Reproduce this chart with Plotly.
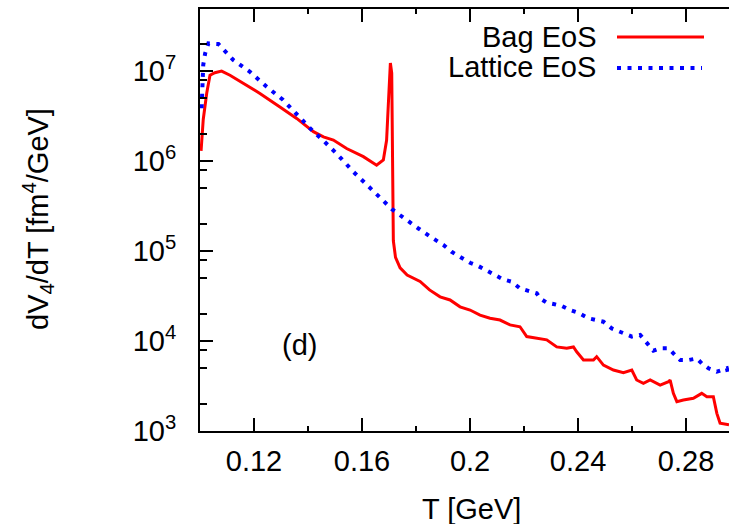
import plotly.graph_objects as go

# ---- data ----
bag_T = [0.1004, 0.1012, 0.1025, 0.1037, 0.1055, 0.1080, 0.1111, 0.1173, 0.1222, 0.1296,
         0.1358, 0.1420, 0.1457, 0.1494, 0.1543, 0.1605, 0.1654, 0.1679, 0.1691, 0.1697,
         0.1705, 0.1710, 0.1712, 0.1716, 0.1724, 0.1741, 0.1767, 0.1815, 0.1850, 0.1889,
         0.1926, 0.1963, 0.2000, 0.2037, 0.2074, 0.2111, 0.2148, 0.2185, 0.2210, 0.2247,
         0.2284, 0.2321, 0.2358, 0.2383, 0.2395, 0.2420, 0.2457, 0.2469, 0.2494, 0.2531,
         0.2568, 0.2599, 0.2617, 0.2642, 0.2667, 0.2704, 0.2735, 0.2741, 0.2753, 0.2766,
         0.2790, 0.2827, 0.2858, 0.2877, 0.2901, 0.2914, 0.2926, 0.2959]
bag_V = [1.3e6, 2.9e6, 5.7e6, 9.0e6, 9.6e6, 1.0e7, 9.0e6, 7.0e6, 5.65e6, 4.0e6,
         2.98e6, 2.12e6, 1.86e6, 1.71e6, 1.38e6, 1.12e6, 9.0e5, 1.03e6, 1.7e6, 4.0e6,
         1.23e7, 9.5e6, 1.0e6, 1.3e5, 8.5e4, 6.5e4, 5.4e4, 4.6e4, 3.7e4, 3.1e4,
         2.86e4, 2.4e4, 2.21e4, 1.94e4, 1.79e4, 1.71e4, 1.51e4, 1.44e4, 1.12e4, 1.07e4,
         1.03e4, 8.6e3, 8.3e3, 8.6e3, 7.6e3, 6.15e3, 6.15e3, 6.7e3, 5.4e3, 4.76e3,
         4.45e3, 4.76e3, 3.69e3, 3.39e3, 3.69e3, 3.24e3, 3.53e3, 3.69e3, 2.62e3, 2.12e3,
         2.21e3, 2.31e3, 2.62e3, 2.4e3, 2.4e3, 1.57e3, 1.22e3, 1.17e3]

lat_T = [0.1006, 0.1010, 0.1012, 0.1019, 0.1031, 0.1068, 0.1123, 0.1185, 0.1247, 0.1307,
         0.1396, 0.1420, 0.1456, 0.1507, 0.1568, 0.1623, 0.1679, 0.1712, 0.1741, 0.1790,
         0.1809, 0.1860, 0.1901, 0.1932, 0.1963, 0.2000, 0.2031, 0.2062, 0.2093, 0.2123,
         0.2154, 0.2185, 0.2216, 0.2247, 0.2259, 0.2284, 0.2309, 0.2340, 0.2370, 0.2401,
         0.2438, 0.2469, 0.2494, 0.2525, 0.2556, 0.2574, 0.2599, 0.2630, 0.2654, 0.2679,
         0.2704, 0.2735, 0.2753, 0.2778, 0.2809, 0.2840, 0.2858, 0.2883, 0.2914, 0.2951,
         0.2959]
lat_V = [3.86e6, 6.7e6, 1.17e7, 1.57e7, 2.03e7, 2.0e7, 1.33e7, 9.8e6, 6.7e6, 4.8e6,
         2.5e6, 2.12e6, 1.7e6, 1.2e6, 7.6e5, 5.25e5, 3.55e5, 2.9e5, 2.5e5, 2.0e5,
         1.78e5, 1.4e5, 1.17e5, 9.8e4, 8.6e4, 7.4e4, 6.8e4, 6.0e4, 5.4e4, 4.84e4,
         4.56e4, 3.85e4, 3.62e4, 3.39e4, 2.98e4, 2.67e4, 2.58e4, 2.45e4, 2.21e4, 2.06e4,
         1.79e4, 1.71e4, 1.64e4, 1.38e4, 1.27e4, 1.22e4, 1.12e4, 1.17e4, 9.4e3, 7.8e3,
         8.3e3, 8.3e3, 7.3e3, 6.15e3, 6.15e3, 6.4e3, 5.65e3, 4.97e3, 4.56e3, 4.97e3,
         4.0e3]

x_ticks = [0.12, 0.16, 0.2, 0.24, 0.28]
x_tick_labels = ["0.12", "0.16", "0.2", "0.24", "0.28"]
x_minor = [0.14, 0.18, 0.22, 0.26]
y_ticks = [1e3, 1e4, 1e5, 1e6, 1e7]
y_tick_labels = ["10<sup>3</sup>", "10<sup>4</sup>", "10<sup>5</sup>", "10<sup>6</sup>", "10<sup>7</sup>"]
y_minor = [m * 10 ** e for e in range(3, 8) for m in (2, 5, 8)]
series_names = ["Bag EoS", "Lattice EoS"]

FONT = "Liberation Sans, Arial, sans-serif"
W, H = 729, 524
L, R, T, B = 200, 0, 9, 93
PW, PH = W - L - R, H - T - B


def px(xp):
    return (xp - L) / PW


def py(yp):
    return (H - B - yp) / PH


fig = go.Figure()
fig.add_trace(go.Scatter(x=bag_T, y=bag_V, mode="lines", name=series_names[0],
                         line=dict(color="#ff0000", width=3), showlegend=False))
fig.add_trace(go.Scatter(x=lat_T, y=lat_V, mode="lines", name=series_names[1],
                         line=dict(color="#0000ff", width=4, dash="4px,6.5px"),
                         showlegend=False))

# manual legend (text left, sample right)
fig.add_shape(type="line", xref="paper", yref="paper", x0=px(617), x1=px(704),
              y0=py(37), y1=py(37), line=dict(color="#ff0000", width=3))
fig.add_shape(type="line", xref="paper", yref="paper", x0=px(617), x1=px(702),
              y0=py(68), y1=py(68), line=dict(color="#0000ff", width=4, dash="4px,6.5px"))
fig.add_annotation(xref="paper", yref="paper", x=px(598), y=py(37), text=series_names[0],
                   xanchor="right", yanchor="middle", showarrow=False,
                   font=dict(family=FONT, size=29, color="black"))
fig.add_annotation(xref="paper", yref="paper", x=px(598), y=py(67), text=series_names[1],
                   xanchor="right", yanchor="middle", showarrow=False,
                   font=dict(family=FONT, size=29, color="black"))

# panel label
fig.add_annotation(xref="paper", yref="paper", x=px(299), y=py(345), text="(d)",
                   xanchor="center", yanchor="middle", showarrow=False,
                   font=dict(family=FONT, size=29, color="black"))

# axis titles
fig.add_annotation(xref="paper", yref="paper", x=px(471), y=py(509), text="T [GeV]",
                   xanchor="center", yanchor="middle", showarrow=False,
                   font=dict(family=FONT, size=29, color="black"))
fig.add_annotation(xref="paper", yref="paper", x=px(38), y=py(219),
                   text="dV<sub>4</sub>/dT [fm<sup>4</sup>/GeV]", textangle=-90,
                   xanchor="center", yanchor="middle", showarrow=False,
                   font=dict(family=FONT, size=29, color="black"))

fig.update_xaxes(range=[0.1, 0.2959], tickmode="array", tickvals=x_ticks, ticktext=x_tick_labels,
                 ticks="inside", ticklen=13, tickwidth=1.5, tickcolor="black",
                 showline=True, linecolor="black", linewidth=2, mirror="ticks",
                 showgrid=False, zeroline=False, ticklabelstandoff=3,
                 tickfont=dict(family=FONT, size=29, color="black"),
                 minor=dict(tickmode="array", tickvals=x_minor, ticks="inside", ticklen=5,
                            tickwidth=1.5, tickcolor="black", showgrid=False))
fig.update_yaxes(type="log", range=[3, 7.69], tickmode="array", tickvals=y_ticks,
                 ticktext=y_tick_labels, ticks="inside", ticklen=13, tickwidth=1.5,
                 tickcolor="black", showline=True, linecolor="black", linewidth=2,
                 mirror=False, showgrid=False, zeroline=False, ticklabelstandoff=16,
                 tickfont=dict(family=FONT, size=29, color="black"),
                 minor=dict(tickmode="array", tickvals=y_minor, ticks="inside", ticklen=7,
                            tickwidth=1.5, tickcolor="black", showgrid=False))

fig.update_layout(width=W, height=H, margin=dict(l=L, r=R, t=T, b=B, autoexpand=False),
                  paper_bgcolor="white", plot_bgcolor="white", showlegend=False,
                  font=dict(family=FONT, color="black"))

fig.write_html("out.html")
